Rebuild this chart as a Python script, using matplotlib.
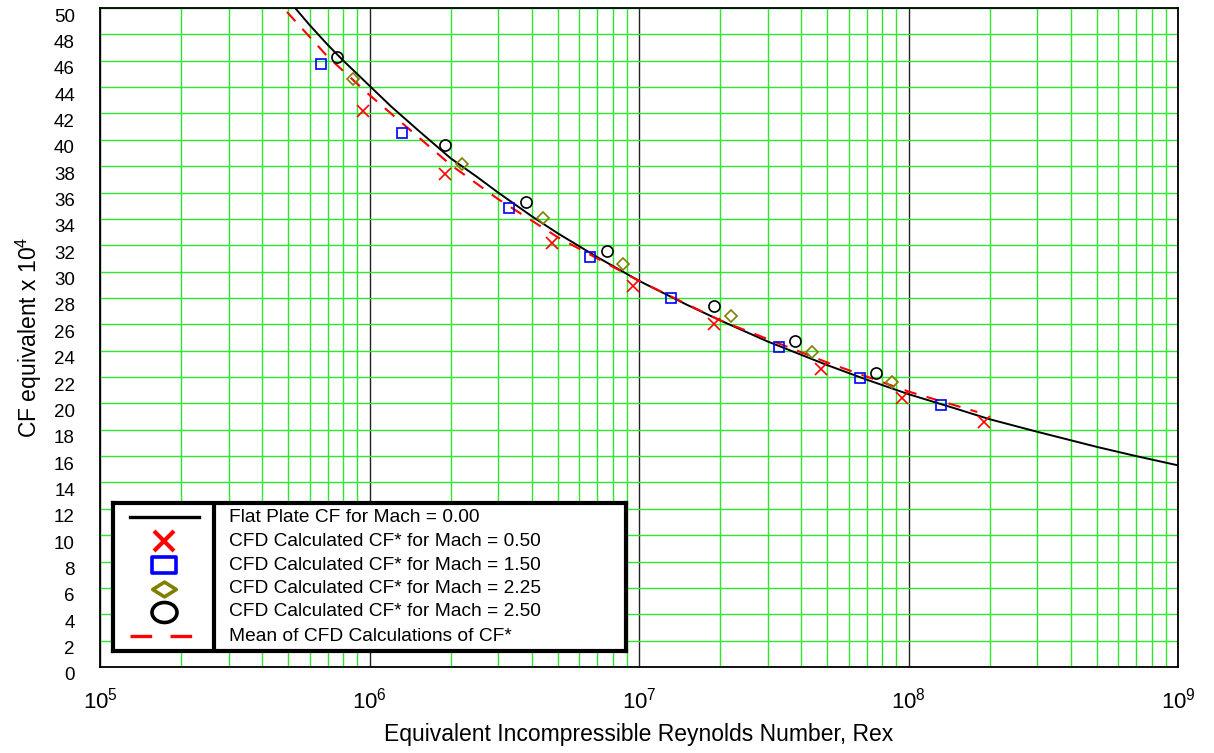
import numpy as np
import matplotlib
matplotlib.use('Agg')
import matplotlib.pyplot as plt
from matplotlib.path import Path
from matplotlib.transforms import Affine2D, ScaledTranslation
from matplotlib.ticker import LogLocator, NullFormatter

plt.rcParams['font.family'] = ['Liberation Sans', 'DejaVu Sans']
plt.rcParams['mathtext.fontset'] = 'custom'
plt.rcParams['mathtext.rm'] = 'Liberation Sans'
plt.rcParams['mathtext.it'] = 'Liberation Sans:italic'

## data
# flat plate curve, Mach 0.00
re_flat = [5e5, 6e5, 7e5, 8e5, 1e6, 1.2e6, 1.5e6, 2e6, 2.5e6, 3e6, 4e6, 5e6, 7e6,
           1e7, 1.5e7, 2e7, 3e7, 5e7, 7e7, 1e8, 1.5e8, 2e8, 3e8, 5e8, 7e8, 1e9]
cf_flat = [50.6, 48.7, 47.2, 46.0, 44.1, 42.55, 40.8, 38.6, 37.2, 36.0, 34.2, 32.9, 31.1,
           29.3, 27.5, 26.3, 24.7, 22.9, 21.8, 20.7, 19.6, 18.8, 17.85, 16.7, 16.0, 15.3]

# CFD points
re_m050 = [9.5e5, 1.9e6, 4.75e6, 9.5e6, 1.9e7, 4.75e7, 9.5e7, 1.9e8]
cf_m050 = [42.2, 37.4, 32.2, 28.9, 26.0, 22.6, 20.4, 18.6]

re_m150 = [6.6e5, 1.32e6, 3.3e6, 6.6e6, 1.32e7, 3.3e7, 6.6e7, 1.32e8]
cf_m150 = [45.75, 40.5, 34.8, 31.1, 28.0, 24.3, 21.95, 19.85]

re_m225 = [8.7e5, 2.2e6, 4.4e6, 8.7e6, 2.2e7, 4.4e7, 8.7e7]
cf_m225 = [44.6, 38.2, 34.1, 30.6, 26.6, 23.9, 21.6]

re_m250 = [7.6e5, 1.9e6, 3.8e6, 7.6e6, 1.9e7, 3.8e7, 7.6e7]
cf_m250 = [46.3, 39.6, 35.3, 31.6, 27.4, 24.7, 22.3]

# mean of CFD
re_mean = [4.94e5, 7e5, 1e6, 2e6, 3e6, 5e6, 1e7, 2e7, 5e7, 1e8, 1.8e8]
cf_mean = [49.7, 46.3, 43.4, 38.1, 35.5, 32.6, 29.3, 26.3, 23.1, 20.9, 19.35]

x_decades = [1e5, 1e6, 1e7, 1e8, 1e9]
y_ticks = list(range(0, 51, 2))

legend_labels = ['Flat Plate CF for Mach = 0.00',
                 'CFD Calculated CF* for Mach = 0.50',
                 'CFD Calculated CF* for Mach = 1.50',
                 'CFD Calculated CF* for Mach = 2.25',
                 'CFD Calculated CF* for Mach = 2.50',
                 'Mean of CFD Calculations of CF*']

green = '#2ee82e'
olive = '#808000'

fig = plt.figure(figsize=(12.14, 7.53), dpi=100)
ax = fig.add_axes([100/1214, 86/753, 1078/1214, 659/753])
ax.set_xscale('log')
ax.set_xlim(1e5, 1e9)
ax.set_ylim(0, 50)

ax.set_xticks(x_decades, [r'$10^{%d}$' % round(np.log10(v)) for v in x_decades])
ax.xaxis.set_minor_locator(LogLocator(base=10, subs=np.arange(2, 10), numticks=50))
ax.xaxis.set_minor_formatter(NullFormatter())
ax.set_yticks(y_ticks, [str(v) for v in y_ticks])

ax.set_axisbelow(True)
ax.grid(True, which='minor', axis='x', color=green, lw=1.0)
ax.grid(True, which='major', axis='x', color='#222222', lw=1.0)
ax.grid(True, which='major', axis='y', color=green, lw=1.0)
ax.tick_params(which='both', length=0)
ax.tick_params(axis='y', labelsize=13.5, pad=18)
ax.tick_params(axis='x', labelsize=16, pad=15)
for lbl in ax.get_yticklabels():
    lbl.set_transform(lbl.get_transform() + ScaledTranslation(0, -0.07, fig.dpi_scale_trans))
for sp in ax.spines.values():
    sp.set_linewidth(1.3)
    sp.set_color('black')

ax.plot(re_flat, cf_flat, color='black', lw=1.4, zorder=3)
ax.plot(re_mean, cf_mean, color='red', lw=1.5, ls=(0, (6, 5)), zorder=3)
ax.plot(re_m050, cf_m050, ls='none', marker='x', ms=8, mew=1.2, color='red', zorder=4)
ax.plot(re_m150, cf_m150, ls='none', marker='s', ms=7, mew=1.2, mec='blue', mfc='none', zorder=4)
ax.plot(re_m225, cf_m225, ls='none', marker='D', ms=6.5, mew=1.2, mec=olive, mfc='none', zorder=4)
ax.plot(re_m250, cf_m250, ls='none', marker='o', ms=8, mew=1.2, mec='black', mfc='none', zorder=4)

ax.set_xlabel('Equivalent Incompressible Reynolds Number, Rex', fontsize=16.5, labelpad=7)
ax.set_ylabel(r'CF equivalent x 10$^{4}$', fontsize=16.5, labelpad=7)

## hand drawn legend box
lg = fig.add_axes([113/1214, (753-651)/753, 513/1214, 148/753])
lg.set_xlim(0, 1)
lg.set_ylim(0, 1)
lg.set_xticks([])
lg.set_yticks([])
for sp in lg.spines.values():
    sp.set_linewidth(3)
lg.axvline(0.197, color='black', lw=3)

rows = [0.905, 0.743, 0.581, 0.419, 0.264, 0.101]
xs = 0.0994
sq = Path([(-1.4, -1), (1.4, -1), (1.4, 1), (-1.4, 1), (-1.4, -1)], closed=True)
dm = Path([(-1.6, 0), (0, -1), (1.6, 0), (0, 1), (-1.6, 0)], closed=True)
el = Affine2D().scale(1.25, 1).transform_path(Path.unit_circle())
lg.plot([0.033, 0.168], [rows[0]] * 2, color='black', lw=2.4)
lg.plot([xs], [rows[1]], marker='x', ms=15, mew=3, color='red', ls='none')
lg.plot([xs], [rows[2]], marker=sq, ms=17, mew=2.6, mec='blue', mfc='none', ls='none')
lg.plot([xs], [rows[3]], marker=dm, ms=17, mew=2.6, mec=olive, mfc='none', ls='none')
lg.plot([xs], [rows[4]], marker=el, ms=18, mew=2.6, mec='black', mfc='none', ls='none')
lg.plot([0.033, 0.168], [rows[5]] * 2, color='red', lw=2.4, ls=(0, (6.5, 5.5)))
for r, t in zip(rows, legend_labels):
    lg.text(0.226, r, t, fontsize=13.8, va='center', ha='left')

fig.savefig('out.png', dpi=100)
